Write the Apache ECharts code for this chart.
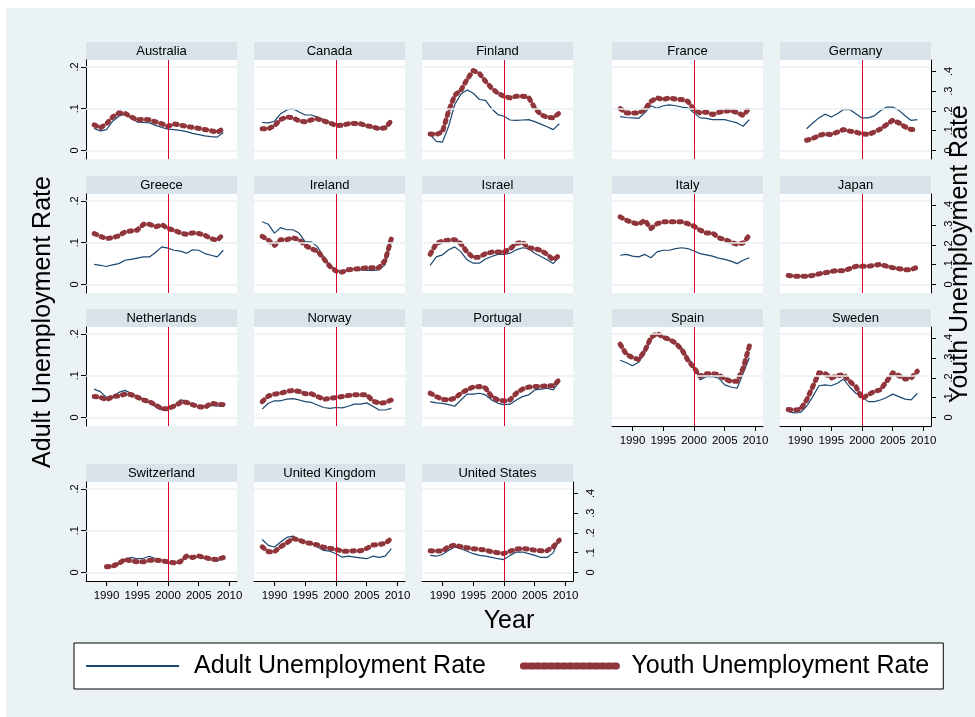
<!DOCTYPE html>
<html>
<head>
<meta charset="utf-8">
<script src="https://cdn.jsdelivr.net/npm/echarts@6/dist/echarts.min.js"></script>
<style>
html,body{margin:0;padding:0;background:#fff;}
#wrap{position:relative;width:975px;height:717px;background:#fff;overflow:hidden;}
#bg{position:absolute;left:6px;top:8px;width:969px;height:709px;background:#EAF2F3;}
#chart{position:absolute;left:0;top:0;width:975px;height:717px;}
</style>
</head>
<body>
<div id="wrap"><div id="bg"></div><div id="chart"></div></div>
<script>
// ---------- DATA ----------
const years = [1988,1989,1990,1991,1992,1993,1994,1995,1996,1997,1998,1999,2000,2001,2002,2003,2004,2005,2006,2007,2008,2009];
const countries = ['Australia','Canada','Finland','France','Germany','Greece','Ireland','Israel','Italy','Japan','Netherlands','Norway','Portugal','Spain','Sweden','Switzerland','United Kingdom','United States'];
const xTickValues = [1990,1995,2000,2005,2010];
const adultTickValues = [0,0.1,0.2];
const youthTickValues = [0,0.1,0.2,0.3,0.4];
const policyYear = 2000;
const seriesNames = ['Adult Unemployment Rate','Youth Unemployment Rate'];

const adult_Australia = [0.053,0.047,0.05,0.07,0.082,0.087,0.078,0.068,0.067,0.066,0.06,0.055,0.051,0.05,0.048,0.045,0.041,0.038,0.035,0.033,0.032,0.043];
const youth_Australia = [0.13,0.115,0.135,0.17,0.19,0.188,0.17,0.155,0.158,0.155,0.145,0.135,0.122,0.135,0.128,0.122,0.117,0.112,0.106,0.1,0.092,0.11];
const adult_Canada = [0.067,0.066,0.07,0.088,0.097,0.1,0.092,0.085,0.085,0.08,0.074,0.067,0.06,0.062,0.066,0.065,0.063,0.058,0.054,0.051,0.052,0.072];
const youth_Canada = [0.11,0.11,0.125,0.157,0.17,0.165,0.15,0.145,0.155,0.16,0.15,0.14,0.126,0.128,0.135,0.137,0.135,0.125,0.12,0.11,0.115,0.15];
const adult_Finland = [0.038,0.022,0.02,0.058,0.11,0.135,0.145,0.137,0.122,0.12,0.1,0.086,0.082,0.073,0.072,0.073,0.074,0.069,0.063,0.057,0.05,0.064];
const youth_Finland = [0.084,0.081,0.095,0.2,0.28,0.305,0.36,0.405,0.39,0.35,0.315,0.29,0.274,0.266,0.275,0.275,0.27,0.215,0.182,0.168,0.165,0.19];
const adult_France = [0.081,0.079,0.078,0.077,0.09,0.107,0.101,0.107,0.109,0.107,0.104,0.102,0.09,0.078,0.077,0.074,0.074,0.074,0.07,0.066,0.058,0.074];
const youth_France = [0.212,0.19,0.19,0.19,0.207,0.249,0.266,0.258,0.266,0.26,0.258,0.249,0.207,0.19,0.195,0.182,0.193,0.199,0.202,0.193,0.177,0.215];
const adult_Germany = [null,null,null,0.052,0.066,0.078,0.087,0.08,0.088,0.098,0.098,0.088,0.078,0.078,0.083,0.095,0.104,0.104,0.096,0.083,0.072,0.074];
const youth_Germany = [null,null,null,0.052,0.061,0.076,0.084,0.081,0.093,0.106,0.098,0.093,0.084,0.081,0.093,0.109,0.131,0.153,0.14,0.12,0.106,0.106];
const adult_Greece = [0.048,0.046,0.043,0.047,0.05,0.058,0.06,0.063,0.066,0.066,0.077,0.09,0.087,0.082,0.08,0.075,0.083,0.082,0.074,0.07,0.066,0.082];
const youth_Greece = [0.258,0.244,0.232,0.237,0.246,0.266,0.271,0.275,0.305,0.305,0.292,0.303,0.283,0.275,0.261,0.254,0.261,0.258,0.249,0.232,0.224,0.254];
const adult_Ireland = [0.15,0.144,0.123,0.136,0.131,0.131,0.123,0.102,0.102,0.09,0.066,0.046,0.035,0.03,0.035,0.037,0.035,0.034,0.034,0.035,0.048,0.106];
const youth_Ireland = [0.244,0.224,0.198,0.227,0.227,0.237,0.227,0.198,0.181,0.169,0.131,0.092,0.068,0.063,0.075,0.078,0.08,0.085,0.085,0.085,0.122,0.232];
const adult_Israel = [0.046,0.066,0.071,0.083,0.09,0.078,0.059,0.051,0.051,0.061,0.067,0.072,0.072,0.075,0.083,0.088,0.086,0.075,0.067,0.059,0.05,0.066];
const youth_Israel = [0.153,0.207,0.22,0.224,0.227,0.207,0.164,0.136,0.139,0.156,0.164,0.164,0.164,0.181,0.207,0.215,0.186,0.181,0.173,0.153,0.125,0.147];
const adult_Italy = [0.07,0.072,0.068,0.066,0.072,0.064,0.078,0.082,0.082,0.086,0.088,0.086,0.08,0.074,0.071,0.068,0.063,0.06,0.056,0.05,0.058,0.064];
const youth_Italy = [0.342,0.325,0.314,0.305,0.325,0.283,0.308,0.317,0.317,0.317,0.317,0.308,0.295,0.275,0.261,0.261,0.237,0.227,0.215,0.203,0.21,0.249];
const adult_Japan = [0.022,0.02,0.02,0.02,0.022,0.025,0.028,0.031,0.033,0.032,0.038,0.043,0.043,0.044,0.046,0.048,0.043,0.04,0.038,0.035,0.036,0.042];
const youth_Japan = [0.046,0.042,0.042,0.042,0.046,0.054,0.059,0.066,0.071,0.069,0.08,0.092,0.092,0.092,0.097,0.102,0.092,0.085,0.08,0.075,0.075,0.088];
const adult_Netherlands = [0.068,0.062,0.048,0.05,0.06,0.065,0.058,0.05,0.044,0.035,0.026,0.018,0.019,0.027,0.042,0.04,0.03,0.026,0.027,0.029,0.027,0.03];
const youth_Netherlands = [0.106,0.103,0.089,0.106,0.109,0.118,0.116,0.103,0.089,0.08,0.063,0.044,0.044,0.058,0.075,0.077,0.065,0.055,0.051,0.072,0.068,0.065];
const adult_Norway = [0.02,0.034,0.04,0.04,0.044,0.045,0.042,0.038,0.036,0.03,0.024,0.022,0.024,0.023,0.027,0.032,0.032,0.035,0.027,0.018,0.018,0.022];
const youth_Norway = [0.08,0.109,0.118,0.123,0.132,0.137,0.132,0.12,0.12,0.106,0.092,0.097,0.101,0.106,0.111,0.115,0.115,0.115,0.084,0.072,0.075,0.089];
const adult_Portugal = [0.038,0.035,0.034,0.031,0.027,0.042,0.056,0.056,0.058,0.054,0.042,0.034,0.031,0.032,0.042,0.05,0.054,0.066,0.068,0.07,0.066,0.086];
const youth_Portugal = [0.123,0.106,0.092,0.089,0.097,0.123,0.14,0.154,0.157,0.149,0.106,0.089,0.084,0.089,0.123,0.144,0.154,0.157,0.157,0.161,0.161,0.191];
const adult_Spain = [0.137,0.131,0.124,0.132,0.155,0.187,0.199,0.191,0.185,0.179,0.167,0.143,0.123,0.09,0.098,0.098,0.094,0.078,0.073,0.07,0.106,0.143];
const youth_Spain = [0.371,0.32,0.303,0.294,0.337,0.405,0.427,0.405,0.397,0.376,0.345,0.29,0.251,0.209,0.222,0.222,0.217,0.195,0.183,0.183,0.251,0.362];
const adult_Sweden = [0.014,0.011,0.012,0.027,0.05,0.076,0.078,0.076,0.082,0.092,0.073,0.058,0.05,0.038,0.038,0.042,0.048,0.056,0.05,0.044,0.042,0.058];
const youth_Sweden = [0.041,0.038,0.041,0.089,0.157,0.226,0.222,0.2,0.212,0.217,0.183,0.157,0.097,0.115,0.132,0.14,0.183,0.226,0.212,0.195,0.2,0.234];
const adult_Switzerland = [null,null,0.012,0.014,0.02,0.032,0.036,0.033,0.034,0.039,0.033,0.03,0.023,0.022,0.025,0.037,0.037,0.037,0.034,0.03,0.027,0.036];
const youth_Switzerland = [null,null,0.029,0.032,0.046,0.066,0.059,0.054,0.054,0.062,0.062,0.059,0.054,0.049,0.054,0.083,0.076,0.083,0.076,0.068,0.066,0.076];
const adult_UnitedKingdom = [0.079,0.065,0.061,0.073,0.084,0.087,0.079,0.073,0.069,0.061,0.053,0.051,0.045,0.037,0.039,0.037,0.035,0.033,0.039,0.036,0.039,0.057];
const youth_UnitedKingdom = [0.13,0.105,0.105,0.13,0.15,0.172,0.164,0.152,0.147,0.139,0.127,0.122,0.117,0.108,0.108,0.11,0.11,0.122,0.139,0.142,0.147,0.172];
const adult_UnitedStates = [0.041,0.039,0.043,0.053,0.061,0.057,0.051,0.045,0.041,0.039,0.036,0.033,0.031,0.041,0.049,0.049,0.045,0.041,0.036,0.036,0.047,0.079];
const youth_UnitedStates = [0.11,0.108,0.11,0.13,0.139,0.13,0.125,0.12,0.118,0.113,0.105,0.1,0.096,0.108,0.118,0.122,0.118,0.113,0.11,0.11,0.13,0.164];

const adultList = [adult_Australia,adult_Canada,adult_Finland,adult_France,adult_Germany,adult_Greece,adult_Ireland,adult_Israel,adult_Italy,adult_Japan,adult_Netherlands,adult_Norway,adult_Portugal,adult_Spain,adult_Sweden,adult_Switzerland,adult_UnitedKingdom,adult_UnitedStates];
const youthList = [youth_Australia,youth_Canada,youth_Finland,youth_France,youth_Germany,youth_Greece,youth_Ireland,youth_Israel,youth_Italy,youth_Japan,youth_Netherlands,youth_Norway,youth_Portugal,youth_Spain,youth_Sweden,youth_Switzerland,youth_UnitedKingdom,youth_UnitedStates];

// ---------- LAYOUT / STYLE ----------
const FONT = 'Liberation Sans, Arial, Helvetica, sans-serif';
const COL_LEFT = [86, 254, 422, 612, 780];
const ROW_TOP = [60, 194, 327, 482];
const PW = 151, PH = 99, STRIP = 18;
const X_MIN = 1986.67, X_MAX = 2011.22;
const A_MIN = -0.0203, A_MAX = 0.2165;
const Y_MIN = -0.043, Y_MAX = 0.458;
const NAVY = '#1A476F', CRAN = '#90353B', RED = '#D9002E';
const GRIDC = '#EAF2F3', STRIPC = '#D8E4EA';
const YOUTH_DASH = [2.5, 5];

function fmt(v){ if (Math.abs(v) < 1e-9) return '0'; return String(+v.toFixed(2)).replace(/^0/, ''); }

const grids = [], xAxes = [], yAxes = [], series = [], graphics = [];
const n = countries.length;
countries.forEach((name, i) => {
  const row = Math.floor(i / 5), col = i % 5;
  const left = COL_LEFT[col], top = ROW_TOP[row];
  const showLeft = col === 0;
  const showRight = col === 4 || i === n - 1;
  const showBottom = i + 5 >= n;
  grids.push({left: left, top: top, width: PW, height: PH, show: true, backgroundColor: '#fff', borderWidth: 0, containLabel: false});
  xAxes.push({
    gridIndex: i, type: 'value', min: X_MIN, max: X_MAX, show: showBottom,
    axisLine: {show: true, onZero: false, lineStyle: {color: '#000', width: 1}},
    axisTick: {show: true, length: 5, customValues: xTickValues, lineStyle: {color: '#000'}},
    axisLabel: {show: true, customValues: xTickValues, fontSize: 11.5, fontFamily: FONT, color: '#000', margin: 9, formatter: v => String(v)},
    splitLine: {show: false}
  });
  yAxes.push({
    gridIndex: i, type: 'value', position: 'left', min: A_MIN, max: A_MAX, show: showLeft,
    axisLine: {show: true, onZero: false, lineStyle: {color: '#000', width: 1}},
    axisTick: {show: true, length: 5, customValues: adultTickValues, lineStyle: {color: '#000'}},
    axisLabel: {show: true, customValues: adultTickValues, rotate: 90, fontSize: 11, fontFamily: FONT, color: '#000', margin: 6, formatter: fmt},
    splitLine: {show: false}
  });
  yAxes.push({
    gridIndex: i, type: 'value', position: 'right', min: Y_MIN, max: Y_MAX, show: showRight,
    axisLine: {show: true, onZero: false, lineStyle: {color: '#000', width: 1}},
    axisTick: {show: true, length: 5, customValues: youthTickValues, lineStyle: {color: '#000'}},
    axisLabel: {show: true, customValues: youthTickValues, rotate: 90, fontSize: 11, fontFamily: FONT, color: '#000', margin: 12, formatter: fmt},
    splitLine: {show: false}
  });
  // gridlines at adult ticks
  series.push({
    type: 'line', xAxisIndex: i, yAxisIndex: 2 * i, data: [], silent: true, z: 1, symbol: 'none',
    markLine: {silent: true, symbol: ['none','none'], animation: false, label: {show: false},
      lineStyle: {color: GRIDC, width: 1.5, type: 'solid'},
      data: adultTickValues.map(v => ({yAxis: v}))}
  });
  series.push({
    name: seriesNames[0], type: 'line', xAxisIndex: i, yAxisIndex: 2 * i, z: 2,
    data: years.map((y, k) => [y, adultList[i][k]]),
    symbol: 'none', showSymbol: false, animation: false, connectNulls: false,
    color: NAVY, lineStyle: {color: NAVY, width: 1.2}
  });
  series.push({
    name: seriesNames[1], type: 'line', xAxisIndex: i, yAxisIndex: 2 * i + 1, z: 3,
    data: years.map((y, k) => [y, youthList[i][k]]),
    symbol: 'none', showSymbol: false, animation: false, connectNulls: false,
    color: CRAN, lineStyle: {color: CRAN, width: 5, type: YOUTH_DASH, cap: 'round', join: 'round'}
  });
  series.push({
    type: 'line', xAxisIndex: i, yAxisIndex: 2 * i, data: [], silent: true, z: 4, symbol: 'none',
    markLine: {silent: true, symbol: ['none','none'], animation: false, label: {show: false},
      lineStyle: {color: RED, width: 1, type: 'solid'},
      data: [{xAxis: policyYear}]}
  });
  // strip title
  graphics.push({type: 'rect', shape: {x: left, y: top - STRIP, width: PW, height: STRIP}, style: {fill: STRIPC}, silent: true});
  graphics.push({type: 'text', x: left + PW / 2, y: top - STRIP / 2, silent: true,
    style: {text: name, fontSize: 13, fontFamily: FONT, fill: '#000', textAlign: 'center', textVerticalAlign: 'middle'}});
});

graphics.push({type: 'text', x: 43, y: 322, rotation: Math.PI / 2, silent: true,
  style: {text: 'Adult Unemployment Rate', fontSize: 25, fontFamily: FONT, fill: '#000', textAlign: 'center', textVerticalAlign: 'middle'}});
graphics.push({type: 'text', x: 960, y: 254, rotation: Math.PI / 2, silent: true,
  style: {text: 'Youth Unemployment Rate', fontSize: 25, fontFamily: FONT, fill: '#000', textAlign: 'center', textVerticalAlign: 'middle'}});
graphics.push({type: 'text', x: 509, y: 621, silent: true,
  style: {text: 'Year', fontSize: 25, fontFamily: FONT, fill: '#000', textAlign: 'center', textVerticalAlign: 'middle'}});

const chart = echarts.init(document.getElementById('chart'), null, {renderer: 'canvas'});
chart.setOption({
  animation: false,
  backgroundColor: 'transparent',
  textStyle: {fontFamily: FONT},
  grid: grids,
  xAxis: xAxes,
  yAxis: yAxes,
  series: series,
  graphic: graphics,
  legend: {
    data: [
      {name: seriesNames[0], itemStyle: {opacity: 0}, lineStyle: {color: NAVY, width: 2.2}},
      {name: seriesNames[1], itemStyle: {opacity: 0}, lineStyle: {color: CRAN, width: 7, type: [3, 3.5], cap: 'round'}}
    ],
    left: 74, top: 643, orient: 'horizontal',
    itemWidth: 93, itemHeight: 14, itemGap: 34,
    padding: [8, 14, 8, 11], borderColor: '#000', borderWidth: 1, backgroundColor: '#fff', borderRadius: 0,
    textStyle: {fontSize: 25, fontFamily: FONT, color: '#000', padding: [0, 0, 0, 10], lineHeight: 30},
    selectedMode: false
  }
});
</script>
</body>
</html>
